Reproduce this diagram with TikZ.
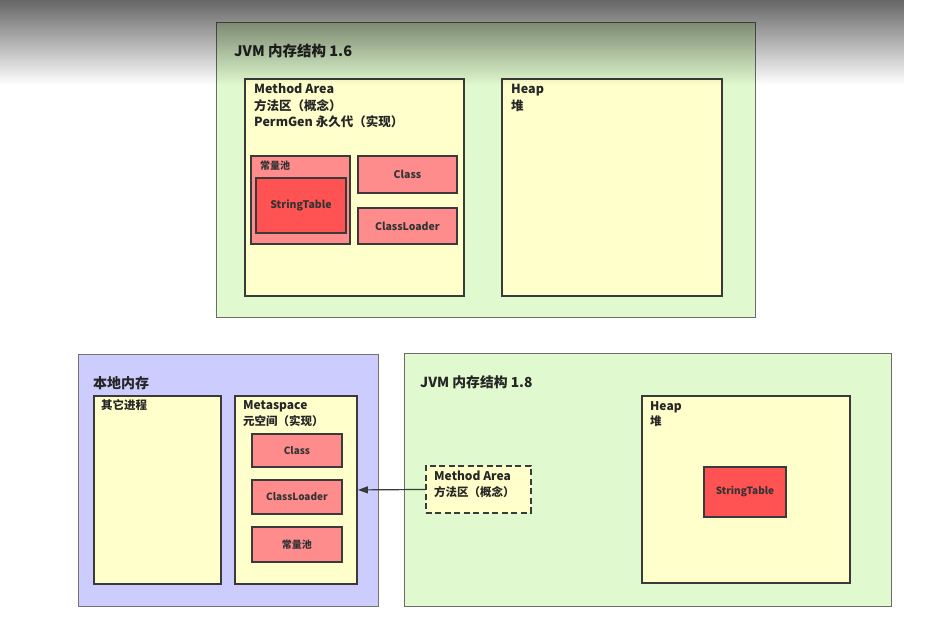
\documentclass[tikz,border=0pt]{standalone}
\usepackage{fontspec}
\setmainfont{Noto Sans CJK SC}
\usetikzlibrary{fadings,arrows.meta}
\definecolor{bggreen}{HTML}{E0F9CE}
\definecolor{paleyellow}{HTML}{FFFFCC}
\definecolor{pinkbox}{HTML}{FF8C8C}
\definecolor{redbox}{HTML}{FF5252}
\definecolor{lavender}{HTML}{CCCCFF}
\definecolor{edge}{HTML}{3A3A3A}
\tikzset{
  region/.style={draw=edge, line width=1.9pt, anchor=north west, inner sep=0pt},
  greenarea/.style={region, fill=bggreen, draw=gray!85!black, line width=1.1pt},
  yellowarea/.style={region, fill=paleyellow},
  pinkarea/.style={region, fill=pinkbox},
  redarea/.style={region, fill=redbox},
  lbl/.style={anchor=base west, inner sep=0pt, text=black!85, yshift=-2pt},
  fA/.style={font=\bfseries\fontsize{14.5}{16}\selectfont},
  fB/.style={font=\bfseries\fontsize{12.5}{14}\selectfont},
  fC/.style={font=\bfseries\fontsize{12}{14}\selectfont},
  fD/.style={font=\bfseries\fontsize{11.5}{13}\selectfont},
  boxtext/.style={font=\bfseries\fontsize{10.5}{12}\selectfont, text=black!80},
  boxtextb/.style={font=\bfseries\fontsize{10}{12}\selectfont, text=black!80},
}
\begin{document}
\begin{tikzpicture}[x=1pt,y=-1pt]
\useasboundingbox (0,0) rectangle (925,628);
\fill[white] (0,0) rectangle (925,628);
% --- JVM 1.6 ---
\node[greenarea, minimum width=539, minimum height=295] (jvm16) at (216,22) {};
\node[lbl, fA] (t16) at (234,55) {JVM 内存结构 1.6};
\node[yellowarea, minimum width=219, minimum height=217] (ma16) at (244,78) {};
\node[lbl, fB] (ma16a) at (254,92) {Method Area};
\node[lbl, fB] (ma16b) at (254,108.5) {方法区（概念）};
\node[lbl, fB] (ma16c) at (254,125) {PermGen 永久代（实现）};
\node[yellowarea, minimum width=220, minimum height=217] (heap16) at (501,78) {};
\node[lbl, fB] (heap16a) at (511,92) {Heap};
\node[lbl, fB] (heap16b) at (511,108.5) {堆};
\node[pinkarea, minimum width=99, minimum height=88] (pool16) at (250,155) {};
\node[lbl, boxtextb] (pool16t) at (260,168) {常量池};
\node[redarea, minimum width=90, minimum height=55] (st16) at (255,177) {};
\node[boxtext] at (st16.center) {StringTable};
\node[pinkarea, minimum width=99, minimum height=37] (class16) at (357,155) {};
\node[boxtext] at (class16.center) {Class};
\node[pinkarea, minimum width=99, minimum height=36] (cl16) at (357,207) {};
\node[boxtext] at (cl16.center) {ClassLoader};
% --- native memory ---
\node[region, fill=lavender, draw=gray!90!black, line width=1.1pt, minimum width=300, minimum height=252] (native) at (78,354) {};
\node[lbl, font=\bfseries\fontsize{14}{16}\selectfont] (nativet) at (93,386.5) {本地内存};
\node[yellowarea, minimum width=127, minimum height=188] (other) at (93,395) {};
\node[lbl, fD] (othert) at (101,407.5) {其它进程};
\node[yellowarea, minimum width=122, minimum height=188] (meta) at (234,395) {};
\node[lbl, fC] (metaa) at (243,407.5) {Metaspace};
\node[lbl, fD] (metab) at (243,423.5) {元空间（实现）};
\node[pinkarea, minimum width=90, minimum height=33] (class18) at (251,433) {};
\node[boxtextb] at (class18.center) {Class};
\node[pinkarea, minimum width=90, minimum height=34] (cl18) at (251,479) {};
\node[boxtextb] at (cl18.center) {ClassLoader};
\node[pinkarea, minimum width=90, minimum height=35] (pool18) at (251,526) {};
\node[boxtextb] at (pool18.center) {常量池};
% --- JVM 1.8 ---
\node[greenarea, minimum width=487, minimum height=253] (jvm18) at (404,353) {};
\node[lbl, font=\bfseries\fontsize{13.8}{16}\selectfont] (t18) at (420,385) {JVM 内存结构 1.8};
\node[yellowarea, minimum width=208, minimum height=187] (heap18) at (641,395) {};
\node[lbl, fC] (heap18a) at (650,408.5) {Heap};
\node[lbl, fD] (heap18b) at (650,423.5) {堆};
\node[redarea, minimum width=82, minimum height=50] (st18) at (703,466) {};
\node[boxtextb] at (st18.center) {StringTable};
\node[region, fill=paleyellow, dash pattern=on 6pt off 3.5pt, minimum width=105, minimum height=47] (ma18) at (425,465) {};
\node[lbl, fC] (ma18a) at (434,478.5) {Method Area};
\node[lbl, fD] (ma18b) at (434,494.5) {方法区（概念）};
\draw[edge, line width=1.2pt, -{Triangle[length=10pt,width=7pt]}] (ma18.west) -- (meta.east);
% screenshot top shading
\fill[black, opacity=0.6, path fading=south] (0,0) rectangle (905,85);
\end{tikzpicture}
\end{document}
